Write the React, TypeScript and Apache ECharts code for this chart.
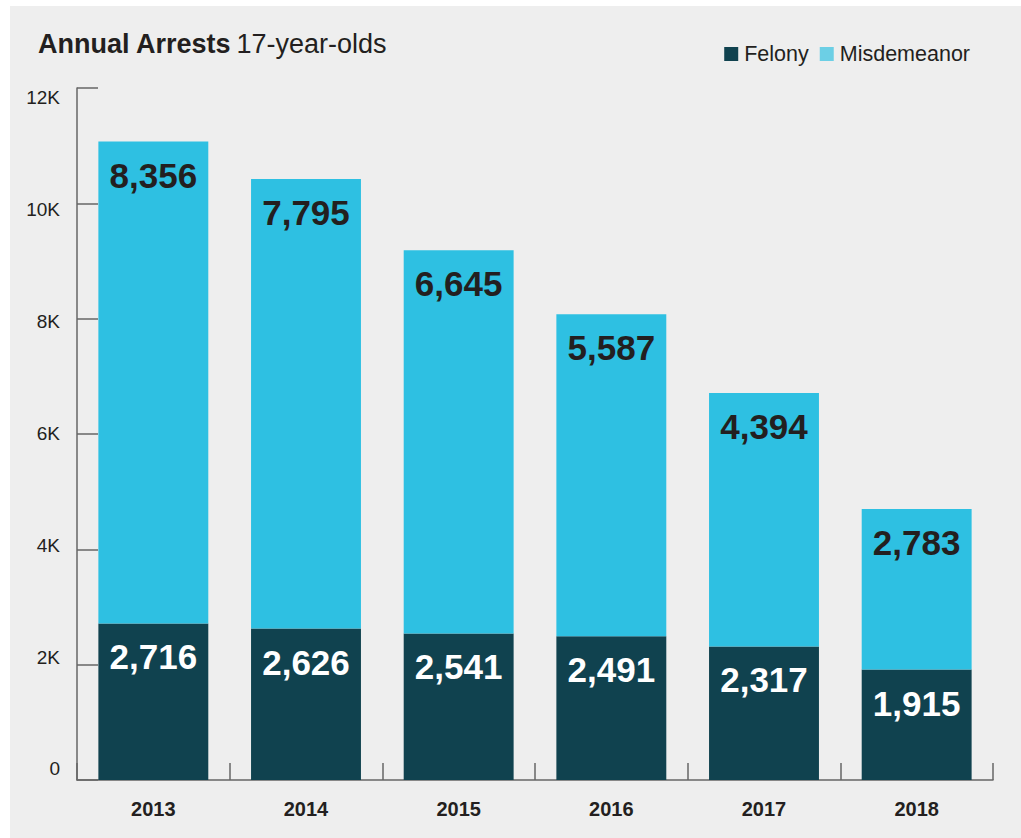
import React, { useEffect, useRef } from "react";
import * as echarts from "echarts";

const years = ["2013", "2014", "2015", "2016", "2017", "2018"];
const felony = [2716, 2626, 2541, 2491, 2317, 1915];
const misdemeanor = [8356, 7795, 6645, 5587, 4394, 2783];
const yTickValues = [0, 2000, 4000, 6000, 8000, 10000, 12000];

const FONT = "'Liberation Sans', Arial, sans-serif";
const TEXT = "#231f20";
const FELONY = "#10424f";
const MISD = "#2ec0e2";
const MISD_LEGEND = "#6ccfe5";
const AXIS = "#666666";

export default function App() {
  const ref = useRef<HTMLDivElement>(null);

  useEffect(() => {
    document.body.style.margin = "0";
    if (!ref.current) return;
    const chart = echarts.init(ref.current, null, { renderer: "svg" });
    const fmt = (p: any) => Number(p.value).toLocaleString("en-US");
    chart.setOption({
      animation: false,
      backgroundColor: "transparent",
      textStyle: { fontFamily: FONT },
      title: {
        left: 38,
        top: 30,
        padding: 0,
        text: "{b|Annual Arrests} {r|17-year-olds}",
        textStyle: {
          rich: {
            b: { fontFamily: FONT, fontSize: 27, fontWeight: "bold", color: TEXT, lineHeight: 27 },
            r: { fontFamily: FONT, fontSize: 27, fontWeight: "normal", color: TEXT, lineHeight: 27 },
          },
        },
      },
      legend: {
        right: 51,
        top: 43,
        padding: 0,
        itemWidth: 14,
        itemHeight: 14,
        itemGap: 11,
        icon: "rect",
        textStyle: { fontFamily: FONT, fontSize: 21.5, color: TEXT, lineHeight: 20, padding: [0, 0, 0, 1] },
        data: [
          { name: "Felony", itemStyle: { color: FELONY } },
          { name: "Misdemeanor", itemStyle: { color: MISD_LEGEND } },
        ],
      },
      grid: { left: 77, right: 28, top: 88, bottom: 58, containLabel: false },
      xAxis: {
        type: "category",
        data: years,
        boundaryGap: true,
        axisLine: { show: true, lineStyle: { color: AXIS, width: 1.5 } },
        axisTick: { show: true, inside: true, length: 17, alignWithLabel: false, interval: 0, lineStyle: { color: AXIS, width: 1.5 } },
        axisLabel: { margin: 19, fontFamily: FONT, fontSize: 20, fontWeight: "bold", color: TEXT },
      },
      yAxis: [
        {
          type: "value",
          min: 0,
          max: 12000,
          interval: 2000,
          axisLine: { show: true, lineStyle: { color: AXIS, width: 1.5 } },
          axisTick: { show: true, inside: true, length: 21, lineStyle: { color: AXIS, width: 1.5 } },
          axisLabel: { show: false },
          splitLine: { show: false },
        },
        {
          type: "value",
          position: "left",
          min: -196.6,
          max: 12170.3,
          axisLine: { show: false },
          axisTick: { show: false },
          splitLine: { show: false },
          axisLabel: {
            show: true,
            customValues: yTickValues,
            margin: 17,
            fontFamily: FONT,
            fontSize: 19,
            color: TEXT,
            formatter: (v: number) => (v === 0 ? "0" : v / 1000 + "K"),
          },
        },
      ],
      series: [
        {
          name: "Felony",
          type: "bar",
          stack: "total",
          barWidth: "72%",
          data: felony,
          itemStyle: { color: FELONY },
          label: {
            show: true,
            position: "insideTop",
            distance: 16,
            fontFamily: FONT,
            fontSize: 35,
            fontWeight: "bold",
            color: "#ffffff",
            formatter: fmt,
          },
        },
        {
          name: "Misdemeanor",
          type: "bar",
          stack: "total",
          barWidth: "72%",
          data: misdemeanor,
          itemStyle: { color: MISD },
          label: {
            show: true,
            position: "insideTop",
            distance: 16,
            fontFamily: FONT,
            fontSize: 35,
            fontWeight: "bold",
            color: TEXT,
            formatter: fmt,
          },
        },
      ],
    });
    return () => chart.dispose();
  }, []);

  return (
    <div style={{ position: "relative", width: 1021, height: 838, background: "#ffffff", overflow: "hidden" }}>
      <div style={{ position: "absolute", left: 10, top: 6, right: 0, bottom: 0, background: "#eeeeee" }} />
      <div ref={ref} style={{ position: "absolute", left: 0, top: 0, width: 1021, height: 838 }} />
    </div>
  );
}
